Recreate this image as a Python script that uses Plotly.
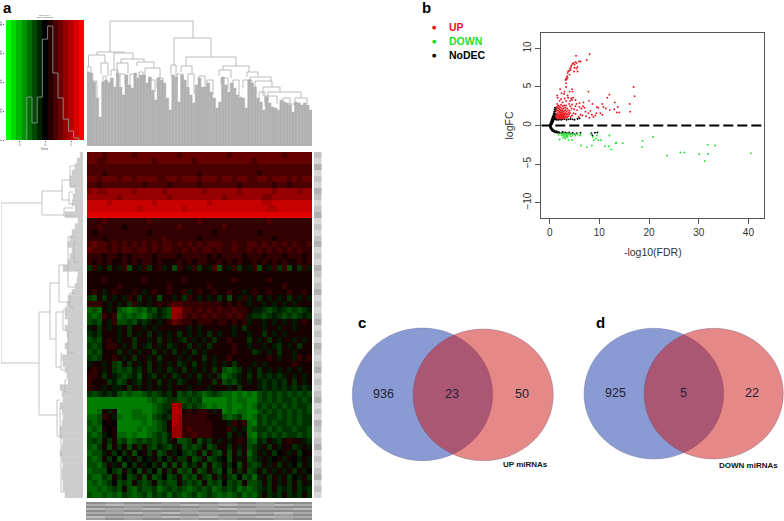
import plotly.graph_objects as go

W, H = 784, 521

# colour key and histogram
key_bins = [-7, -6, -5, -4, -3, -2, -1, 0, 1, 2, 3, 4, 5, 6, 7]
key_span = [0, 414]
hist_edges = [-3.5, -2.5, -1.5, -0.5, 0.5, 1.5, 2.5, 3.5, 4.5, 5.5, 6.5]
hist_counts = [148, 59, 148, 348, 393, 231, 145, 72, 31, 7]

# heatmap, one string per row. digits = red level, a-f = green level, spaces only group columns
hm_rows = [
    "444344444344444444344444444434444444444344444",
    "443344444444434444444344444444444344444444444",
    "333333333333333333333333333333333333333333333",
    "333233333333333333333323333333333323333333333",
    "443444344344443344344434443443443344344434344",
    "332333333332333323333323333333233333323323333",
    "565566666566666566666665666666566666656666566",
    "666666566666666656666666666566666665566666666",
    "888878888888878888888888788888888887788888888",
    "888888888878888888878888888888888888778888888",
    "999999999999999999999999999999999999999999999",
    "222322222222322222222232222222222222322222222",
    "223222212222222222322222222322222222222222222",
    "212222222222122222222222212222222212222222222",
    "222122222222222322222212222222222222212222222",
    "343323232323232332323232333223223323232323223",
    "433323233233232332232323323223223232323232322",
    "222122121222212222122222121222212221222122212",
    "212121121212212111212122112121211212121211212",
    "b2a1b1a2c1a2b12a1c21a2b1a3c1a2b1a2c1a2b2c1b2a",
    "111111111111111111111111111111111111111111111",
    "111211111112111111121111111112111111211111111",
    "111111211111111121111111211111111111111211111",
    "121a1211121a12112112a1211211211a1211211121121",
    "bc1b1a1a21b1a1c11a1b21a1a1b1c1a2a1b1a1a1b1a1a",
    "222 1a1 a1b2a1 a1212 33 22222222 12121 a1 1a1a1a1a111",
    "dcd 1a1 cdedcd bcabc 66 33232323 22322 1a abcbabcbcba",
    "cdc 212 dcdcde cbabc 65 32323232 23232 ab bcbabcbcbab",
    "cbc 1a2 ccbcab a1a12 43 22122212 21212 a1 1a1a1a1a121",
    "a1b 1a1 a1b11a 1a111 11 1a1a1111 11a1b 11 1a11a11a111",
    "bab 111 a1b1a1 b1a1a 1b 1a1a1b1a 11a11 a1 1b1a1a11111",
    "cbc 121 a11b11 a1b1a 1a b1a1a1b1 12111 b1 a1b1a11a1a1",
    "bcb 122 1a1b1a b1a1b a1 1b1a1b11 11211 a1 1a1ab1a1b11",
    "cbc 111 b1a1a1 1b1a1 b1 a1b1a111 11211 1b a1a1b11a111",
    "bcb 112 1a1b11 a1b11 1a 1a11b1a1 12111 11 1121a11a212",
    "a11 a1b c1b1a1 b1a1a 1b a1b1a1a1 a1b11 1a 1a111112111",
    "121 a1b cbcab1 b1a1b a1 b1a1a1b1 cdcb1 a1 b1a1a1a1a11",
    "221 b1a bcbac1 ab1a1 ba 1a1b1a1b dcba1 b1 bababa1a1a1",
    "211 1ba cb1ab1 a1b1a 1b a11a11b1 cbca1 a1 ababab1b1a1",
    "211 a1a a1b1a1 a1a1a 11 1a111a11 1a1b1 11 abababababa",
    "bcb aba cdcddc bcbab 1c bcbcdcbc ddede de cbcbcbcbcbc",
    "eee eee eeeeee dcdcb bc cbcbeeee ededd ee cbcbcbbcbcb",
    "eee eee eeeeee edcbb 76 bcbcdede edeed ed bcbcbcbcbbc",
    "eed 1a1 eeedde edcba 77 121221a1 ededd ee cbcbcbcbcbc",
    "ddc 21a deeddd ecbab 76 22222111 cdcbd ed bcbbcbcbcbb",
    "cdc 010 eeeeed edcb1 76 22222211 1a212 de bcbcbbcbcbb",
    "dcd 101 eeeede ddcb1 66 23222211 12a1a dc bbcbcbbcbbc",
    "cdc a01 ddedee dcbca 66 22322211 1b1a1 de bcbcbcbbcbc",
    "cbc 1b1 cbdcbc bcbca 1c cb1cab1a 1a121 cd ab1ab1211ab",
    "cdb 1c1 b1c1b1 bcabc a1 cbcb1cb1 1b1a1 cb a1b1a11ba1a",
    "dcc a1b 0b1c01 b1cb1 a0 bcb1c1bc 1c1b1 db 1a1b01a1b01",
    "cdc 1b0 c0a1b0 a1b0b 1b b1cb1cba 0c1a1 cb a1a01a10a1a",
    "ccd b1a 1c0b1a 0b1c1 c1 cab1c1cb 1b0c1 bc b1a1b1a0b1a",
    "dcc c0b c1b0c1 b0c1b 1c bc1cb1bc 0c1b1 cb 1b1a1a1b1a0",
    "cdd bc1 b0cb1c 1cb0c b1 cbc1bc1b 1bc0c bd a1b1a1b0a1b",
    "dcd cb0 cbc1bc b1cbc c1 bcbc1cbc 0cbc1 cc b1b1a1b1b1a",
    "ddc dcb c1cdbc cbdcb cb cdcbcbdc bcbdc dc bab1bab1bab",
    "cdd cdc dbcdcb dbcbd bc dcbdcbcd cdcbd cd b1bab1bab1b",
]
green_levels = {"a": -1, "b": -2, "c": -3, "d": -4, "e": -5, "f": -6}

# dendrograms: leaf heights, then merges as (left, right, height, left drop, right drop)
top_leaves = [74, 73, 64, 48, 29, 64, 66, 63, 68, 59, 73, 59, 51, 71, 61, 58, 73, 68, 71, 71, 63, 69, 56, 46, 68, 66,
              63, 48, 36, 71, 69, 44, 71, 66, 59, 51, 43, 61, 68, 59, 59, 63, 54, 48, 38, 44, 69, 61, 54, 63, 58, 51,
              49, 48, 38, 66, 63, 59, 48, 44, 36, 49, 43, 39, 38, 36, 46, 44, 43, 41, 34, 44, 43, 41, 43, 41, 36]
top_merges = [
    (23, 106, 125, 94, 108), (10, 37, 94, 91, 93), (1.5, 18, 91, 79, 83), (0, 4, 79, 65, 70), (14, 21, 83, 72, 70),
    (27, 46, 93, 76, 87), (34, 57, 87, 83, 84), (30, 41, 83, 70, 72), (50, 67, 84, 80, 78), (58, 73, 78, 65, 68),
    (24, 31, 76, 70, 68), (87, 124, 108, 81, 89), (84, 89, 81, 70, 70), (99, 149, 89, 80, 80), (94, 105, 80, 74, 72),
    (136, 162, 80, 76, 74), (132, 144, 76, 70, 68), (160, 171, 74, 69, 70), (163, 184, 69, 55, 65),
    (168, 185, 65, 56, 59), (176, 193, 59, 50, 54), (181, 214, 54, 46, 48), (208, 220, 48, 40, 42),
    (178, 190, 50, 40, 42), (203, 212, 42, 36, 38), (0, 3, 70, 62, 60), (6, 10, 65, 52, 45), (16, 19, 70, 60, 64),
    (19, 24, 64, 55, 58), (33, 38, 72, 60, 62), (43, 48, 72, 60, 60), (52, 56, 74, 68, 64), (62, 68, 66, 58, 54),
    (70, 76, 68, 58, 50), (90, 96, 72, 64, 58), (101, 107, 72, 60, 52), (112, 118, 70, 60, 55), (120, 126, 66, 58, 52),
    (134, 141, 68, 62, 56), (146, 152, 66, 58, 50), (156, 165, 66, 58, 50), (172, 178, 54, 46, 44), (196, 203, 48, 44, 42),
]
left_leaves = [3, 6, 8, 11, 13, 13, 8, 10, 11, 8, 18, 5, 8, 11, 13, 15, 11, 13, 15, 20, 5, 6, 8, 11, 15, 16, 18, 18, 15,
               18, 16, 15, 18, 16, 21, 20, 18, 16, 15, 23, 21, 20, 23, 21, 20, 21, 23, 23, 20, 21, 23, 21, 20, 21, 21,
               20, 20, 18]
left_merges = [
    (51, 211, 82, 41, 44), (39, 63, 41, 21, 19), (28, 48, 21, 13, 14), (56, 64, 19, 10, 8), (160, 263, 44, 33, 26),
    (131, 187, 33, 24, 27), (113, 150, 24, 15, 13), (160, 215, 27, 20, 22), (248, 284, 26, 23, 22), (85, 135, 15, 9, 7),
    (141, 155, 13, 8, 9), (158, 178, 20, 18, 15), (180, 201, 15, 11, 9), (201, 218, 22, 21, 18), (256, 285, 23, 20, 21),
    (285, 340, 22, 21, 20), (14, 34, 13, 8, 6), (40, 52, 14, 10, 9), (90, 110, 9, 6, 4), (228, 240, 18, 16, 15),
]

# grey label strips beside and below the heatmap
right_strip = [7, 8, 6, 8, 7, 8, 6, 7, 8, 7, 6, 8, 7, 8, 7, 6, 8, 7, 8, 6, 7, 8, 7, 6, 8, 7, 8, 7, 6, 8, 7, 8, 6, 7, 8,
               7, 6, 8, 7, 8, 7, 6, 8, 7, 8, 6, 7, 8, 7, 6, 8, 7, 8, 7, 6, 8, 7, 8]
bottom_strip = [
    [5, 6, 5, 5, 6, 5, 5, 6, 5, 6, 5, 5],
    [7, 8, 7, 7, 7, 8, 7, 8, 7, 7, 8, 7],
    [5, 5, 6, 5, 5, 5, 6, 5, 5, 6, 5, 5],
    [8, 7, 7, 8, 7, 7, 7, 8, 7, 7, 7, 8],
    [5, 6, 5, 5, 5, 6, 5, 5, 6, 5, 5, 5],
    [7, 7, 8, 7, 8, 7, 7, 7, 8, 7, 8, 7],
    [5, 5, 5, 6, 5, 5, 6, 5, 5, 5, 6, 5],
    [8, 7, 7, 7, 8, 7, 8, 7, 7, 8, 7, 7],
    [6, 5, 6, 5, 5, 6, 5, 6, 5, 5, 6, 5],
]

# volcano plot, (-log10 FDR, logFC)
up_points = [
    (3.2, 5.9), (3.3, 6.1), (3.4, 6.0), (3.5, 6.4), (3.6, 6.2), (3.6, 6.8), (3.7, 7.0), (3.9, 7.1), (4.0, 6.6), (4.1, 7.4),
    (4.2, 7.2), (4.3, 7.6), (4.4, 7.8), (4.6, 8.0), (4.8, 8.1), (5.0, 7.9), (5.2, 8.2), (5.4, 8.1), (5.0, 7.5), (5.4, 7.4),
    (5.6, 7.6), (5.9, 8.3), (6.2, 8.3), (5.3, 9.05), (7.45, 8.5), (8.05, 9.25), (4.9, 7.0), (5.6, 7.0), (3.3, 5.5),
    (1.5, 3.9), (1.6, 3.6), (2.0, 3.2), (2.1, 4.7), (2.4, 4.2), (2.9, 4.1), (3.3, 5.0), (3.0, 4.4), (3.6, 3.9), (4.0, 4.4),
    (4.5, 4.7), (4.6, 4.4), (3.7, 3.6), (4.3, 3.5), (4.7, 3.6), (4.5, 3.3), (4.1, 3.2), (3.3, 3.2), (3.0, 3.5), (2.6, 3.0),
    (2.3, 3.4), (5.2, 3.3), (7.8, 4.4), (7.9, 3.2), (6.0, 2.9), (6.8, 3.0), (5.4, 2.8),
    (16.9, 5.0), (17.1, 3.8), (16.1, 2.8), (16.2, 1.8), (12.0, 4.0), (11.6, 3.6), (13.1, 3.0), (13.7, 2.4), (13.0, 2.1),
    (12.1, 2.0), (11.3, 2.2), (10.6, 2.8), (10.8, 2.4), (9.5, 2.4), (9.8, 2.3), (10.2, 1.6), (10.6, 1.4), (13.5, 1.7),
    (14.0, 1.7), (8.6, 2.8), (9.4, 1.6), (8.2, 1.9), (8.5, 1.4), (7.8, 1.6), (7.2, 1.8), (7.0, 2.3), (6.7, 2.5), (6.4, 2.2),
    (6.0, 2.4), (5.5, 2.0), (5.2, 2.5), (4.9, 2.1), (4.5, 2.7), (4.4, 2.2), (4.1, 2.5), (3.9, 2.8), (8.0, 1.0), (8.8, 1.1),
    (9.2, 1.3), (7.3, 1.2), (6.6, 1.3), (6.2, 1.4), (5.8, 1.1), (5.2, 1.5), (4.8, 1.6), (4.5, 1.3), (4.2, 1.1), (3.8, 1.7),
    (1.3, 1.2), (1.3, 1.9), (1.4, 1.0), (1.4, 1.5), (1.4, 2.4), (1.5, 1.3), (1.5, 2.0), (1.5, 2.8), (1.6, 0.9), (1.6, 1.7),
    (1.6, 2.3), (1.7, 1.1), (1.7, 1.4), (1.7, 2.6), (1.8, 1.0), (1.8, 1.9), (1.8, 2.2), (1.9, 1.3), (1.9, 1.6), (1.9, 2.5),
    (2.0, 0.9), (2.0, 1.2), (2.0, 1.8), (2.0, 2.1), (2.1, 1.0), (2.1, 1.5), (2.1, 2.4), (2.2, 1.3), (2.2, 1.7), (2.2, 2.0),
    (2.3, 0.9), (2.3, 1.1), (2.3, 1.5), (2.3, 2.7), (2.4, 1.2), (2.4, 1.9), (2.4, 2.2), (2.5, 1.0), (2.5, 1.4), (2.5, 1.7),
    (2.6, 1.2), (2.6, 2.0), (2.6, 2.5), (2.7, 0.9), (2.7, 1.5), (2.7, 1.8), (2.8, 1.1), (2.8, 1.3), (2.8, 2.2), (2.9, 1.6),
    (2.9, 2.6), (3.0, 1.0), (3.0, 1.4), (3.0, 1.9), (3.1, 1.2), (3.1, 2.3), (3.2, 1.6), (3.2, 2.0), (3.3, 1.1), (3.3, 2.6),
    (3.4, 1.4), (3.4, 1.8), (3.5, 1.0), (3.5, 2.2), (3.6, 1.5), (3.7, 1.2), (3.7, 2.0), (3.9, 1.4), (4.0, 1.9), (4.1, 1.6),
]
down_points = [
    (40.5, -3.6), (33.3, -2.6), (31.8, -2.5), (31.9, -3.7), (31.2, -4.6), (30.1, -3.7), (27.1, -3.5), (26.3, -3.5),
    (23.6, -3.9), (20.8, -1.5), (18.7, -2.0), (18.6, -2.8), (14.7, -2.3), (13.4, -2.2), (13.3, -2.3), (12.4, -3.1),
    (11.9, -2.7), (11.1, -2.7), (12.0, -1.3), (10.3, -1.9), (9.8, -1.9), (9.3, -1.7), (8.7, -1.5), (8.5, -2.6), (7.5, -2.8),
    (6.3, -2.6), (8.9, -1.9), (8.3, -1.1), (9.5, -1.3), (1.8, -1.2), (2.0, -1.8), (2.2, -1.0), (2.4, -1.3), (2.6, -1.1),
    (2.7, -1.6), (2.8, -1.3), (2.9, -1.0), (3.0, -1.5), (3.1, -1.2), (3.2, -1.7), (3.3, -1.4), (3.4, -1.1), (3.5, -1.3),
    (3.6, -1.5), (3.7, -1.0), (3.8, -1.9), (3.9, -1.2), (4.1, -1.1), (4.3, -1.4), (4.5, -1.9), (4.6, -1.2), (5.0, -1.1),
    (5.2, -1.3), (5.6, -1.1), (6.0, -1.3), (6.2, -1.2),
]
nodec_points = [
    (0.05, 0.05), (0.1, 0.15), (0.15, 0.3), (0.2, 0.2), (0.25, 0.45), (0.3, 0.1), (0.3, 0.6), (0.35, 0.35), (0.4, 0.8),
    (0.45, 0.5), (0.5, 0.2), (0.5, 0.95), (0.55, 0.65), (0.6, 1.1), (0.6, 0.4), (0.65, 0.8), (0.7, 1.3), (0.7, 0.55),
    (0.75, 1.0), (0.8, 1.55), (0.8, 0.7), (0.85, 1.2), (0.9, 1.8), (0.9, 0.85), (0.95, 1.4), (1.0, 2.05), (1.0, 1.0),
    (1.05, 1.6), (1.05, 2.3), (1.1, 0.8), (1.1, 1.2), (1.15, 1.85), (1.2, 0.95), (1.2, 1.45), (1.25, 2.15), (1.3, 0.8),
    (1.4, 0.75), (1.6, 0.8), (1.8, 0.75), (2.0, 0.8), (2.3, 0.75), (2.6, 0.8), (3.0, 0.85), (3.4, 0.75), (3.8, 0.8),
    (4.2, 0.85), (4.6, 0.8), (5.0, 0.75), (5.6, 0.85), (6.0, 0.95),
    (0.05, -0.1), (0.1, -0.25), (0.15, -0.15), (0.2, -0.4), (0.25, -0.2), (0.3, -0.5), (0.35, -0.3), (0.4, -0.55),
    (0.45, -0.4), (0.5, -0.65), (0.6, -0.7), (0.65, -0.5), (0.75, -0.75), (0.9, -0.8), (1.0, -0.65), (1.1, -0.85),
    (1.3, -0.9), (1.4, -0.75), (1.6, -0.95), (1.8, -0.85), (2.0, -0.95), (2.3, -1.0), (2.6, -0.85), (2.9, -0.95),
    (3.2, -0.9), (3.5, -1.0), (3.9, -0.9), (4.2, -1.05), (4.6, -0.95), (5.0, -1.1), (5.5, -1.0), (6.2, -0.95),
    (8.4, -1.0), (9.1, -0.95), (9.6, -0.9), (8.6, -1.3), (0.02, 0.0), (0.08, 0.0), (0.12, 0.02), (0.18, -0.02),
]
legend_labels = ["UP", "DOWN", "NoDEC"]
legend_colors = ["#e8141c", "#22e02a", "#000000"]
cutoff = [0, 0]

# venn counts
venn_up = ["936", "23", "50"]
venn_down = ["925", "5", "22"]


def xdom(a, b):
    return [a / W, b / W]


def ydom(top, bot):
    return [1 - bot / H, 1 - top / H]


def merge_lines(merges):
    a, b = [], []
    for l, r, h, hl, hr in merges:
        a += [l, l, r, r, None]
        b += [hl, h, h, hr, None]
    return a, b


def decode(row):
    row = row.replace(" ", "")[:45].ljust(45, "0")
    return [green_levels[c] if c in green_levels else int(c) for c in row]


fig = go.Figure()

# colour key
fig.add_trace(go.Heatmap(z=[key_bins], x=key_bins, y=key_span, xaxis="x", yaxis="y", showscale=False,
                         zmin=-7, zmax=7, colorscale=[[0, "rgb(0,255,0)"], [0.5, "black"], [1, "rgb(255,0,0)"]]))
hx, hy = [hist_edges[0]], [0]
for i in range(len(hist_counts)):
    hx += [hist_edges[i], hist_edges[i + 1]]
    hy += [hist_counts[i], hist_counts[i]]
hx.append(hist_edges[-1])
hy.append(0)
fig.add_trace(go.Scatter(x=hx, y=hy, mode="lines", xaxis="x", yaxis="y", line=dict(color="#8fa5a5", width=0.8)))

# top dendrogram
n_top = len(top_leaves)
fig.add_trace(go.Bar(x=[(i + 0.5) * 225 / n_top for i in range(n_top)], y=top_leaves, width=225 / n_top,
                     xaxis="x2", yaxis="y2", marker=dict(color="#b2b2b2", line=dict(color="#b2b2b2", width=0.5))))
mx, my = merge_lines(top_merges)
fig.add_trace(go.Scatter(x=mx, y=my, mode="lines", xaxis="x2", yaxis="y2", line=dict(color="#ababab", width=0.8)))

# left dendrogram
n_left = len(left_leaves)
fig.add_trace(go.Bar(y=[(i + 0.5) * 346 / n_left for i in range(n_left)], x=left_leaves, width=346 / n_left,
                     orientation="h", xaxis="x3", yaxis="y3", marker=dict(color="#cdcdcd", line=dict(color="#cdcdcd", width=0.5))))
mp, mh = merge_lines(left_merges)
fig.add_trace(go.Scatter(x=mh, y=mp, mode="lines", xaxis="x3", yaxis="y3", line=dict(color="#b5b5b5", width=0.8)))

# heatmap
fig.add_trace(go.Heatmap(z=[decode(r) for r in hm_rows], xaxis="x4", yaxis="y4", showscale=False, zmin=-6, zmax=9,
                         colorscale=[[0, "rgb(0,150,0)"], [0.4, "black"], [1, "rgb(225,0,0)"]]))

# label strips
fig.add_trace(go.Heatmap(z=[[v] for v in right_strip], xaxis="x5", yaxis="y5", showscale=False, zmin=6, zmax=8,
                         colorscale=[[0, "#b0b0b0"], [1, "#d6d6d6"]]))
fig.add_trace(go.Heatmap(z=bottom_strip, xaxis="x6", yaxis="y6", showscale=False, zmin=5, zmax=8,
                         colorscale=[[0, "#8c8c8c"], [1, "#bcbcbc"]]))

# volcano
for pts, col in [(nodec_points, "#000000"), (up_points, "#e8141c"), (down_points, "#22e02a")]:
    fig.add_trace(go.Scatter(x=[p[0] for p in pts], y=[p[1] for p in pts], mode="markers", xaxis="x7", yaxis="y7",
                             marker=dict(color=col, size=1.9, line=dict(width=0))))
fig.add_trace(go.Scatter(x=[-1.69, 43.2], y=cutoff, mode="lines", xaxis="x7", yaxis="y7",
                         line=dict(color="black", width=2, dash="10px,4px")))

hidden = dict(visible=False, fixedrange=True, automargin=False)
small = dict(family="Liberation Sans", size=3, color="#555555")
axcol = "#555555"
fig.update_layout(
    width=W, height=H, margin=dict(l=0, r=0, t=0, b=0, autoexpand=False), paper_bgcolor="white", plot_bgcolor="white",
    showlegend=False, barmode="overlay", font=dict(family="Liberation Sans", color="#333333"),
    xaxis=dict(domain=xdom(5, 84), range=[-7.7, 7.5], anchor="y", automargin=False, showgrid=False, zeroline=False,
               tickvals=[-5, 0, 5], tickfont=small, ticks="outside", ticklen=1, tickwidth=0.3, tickcolor=axcol,
               title=dict(text="Value", font=small, standoff=0)),
    yaxis=dict(domain=ydom(20, 140), range=[0, 414], anchor="x", automargin=False, showgrid=False, zeroline=False,
               tickvals=[0, 100, 200, 300, 400], tickfont=small, tickangle=-90, ticks="outside", ticklen=1,
               tickwidth=0.3, tickcolor=axcol),
    xaxis2=dict(hidden, domain=xdom(87, 312), range=[0, 225], anchor="y2"),
    yaxis2=dict(hidden, domain=ydom(20, 146), range=[0, 126], anchor="x2"),
    xaxis3=dict(hidden, domain=xdom(1, 83), range=[82, 0], anchor="y3"),
    yaxis3=dict(hidden, domain=ydom(152, 498), range=[346, 0], anchor="x3"),
    xaxis4=dict(hidden, domain=xdom(87, 312), range=[-0.5, 44.5], anchor="y4"),
    yaxis4=dict(hidden, domain=ydom(152, 498), range=[57.5, -0.5], anchor="x4"),
    xaxis5=dict(hidden, domain=xdom(314, 321.5), range=[-0.5, 0.5], anchor="y5"),
    yaxis5=dict(hidden, domain=ydom(152, 498), range=[57.5, -0.5], anchor="x5"),
    xaxis6=dict(hidden, domain=xdom(86, 312), range=[-0.5, 11.5], anchor="y6"),
    yaxis6=dict(hidden, domain=ydom(502, 520), range=[8.5, -0.5], anchor="x6"),
    xaxis7=dict(domain=xdom(541.3, 764.3), range=[-1.69, 43.2], anchor="y7", automargin=False, showgrid=False,
                zeroline=False, showline=True, mirror=True, linecolor=axcol, linewidth=1, ticks="outside", ticklen=5,
                tickcolor=axcol, tickvals=[0, 10, 20, 30, 40], tickfont=dict(size=10, color="#333333"),
                title=dict(text="-log10(FDR)", font=dict(size=10.5), standoff=11)),
    yaxis7=dict(domain=ydom(33, 218), range=[-12, 12], anchor="x7", automargin=False, showgrid=False, zeroline=False,
                showline=True, mirror=True, linecolor=axcol, linewidth=1, ticks="outside", ticklen=5, tickcolor=axcol,
                tickvals=[-10, -5, 0, 5, 10], tickangle=-90, tickfont=dict(size=10, color="#333333"),
                title=dict(text="logFC", font=dict(size=10.5), standoff=6)),
)


def note(x, y, text, size, color="#111111", bold=False):
    fig.add_annotation(xref="paper", yref="paper", x=x / W, y=1 - y / H, text="<b>%s</b>" % text if bold else text,
                       showarrow=False, font=dict(family="Liberation Sans", size=size, color=color),
                       xanchor="center", yanchor="middle")


def circle(x0, x1, y0, y1, col):
    fig.add_shape(type="circle", xref="paper", yref="paper", x0=x0 / W, x1=x1 / W, y0=1 - y1 / H, y1=1 - y0 / H,
                  fillcolor=col, line=dict(color="rgba(90,90,130,0.45)", width=0.7))


BLUE = "rgba(60,88,183,0.6)"
RED = "rgba(203,17,17,0.5)"
circle(352.3, 492.7, 328, 460.7, BLUE)
circle(413, 553.3, 329, 460.7, RED)
circle(584, 723.7, 328.3, 459, BLUE)
circle(644, 783.3, 328.3, 459, RED)

for x, t in zip([383, 452, 522], venn_up):
    note(x, 394, t, 12.5, "#222233")
for x, t in zip([615, 683, 752], venn_down):
    note(x, 393, t, 12.5, "#222233")
note(525, 464, "UP miRNAs", 8, bold=True)
note(748, 465, "DOWN miRNAs", 8, bold=True)

note(8, 8, "a", 15, "black", True)
note(426, 8, "b", 15, "black", True)
note(362, 322, "c", 15, "black", True)
note(600, 322, "d", 15, "black", True)
note(45, 15, "Color Key", 2.5, "#444444")
note(45, 18, "and Histogram", 2.5, "#444444")

# legend labels carry their own colours, so these are notes and not a plotly legend
for i, t in enumerate(legend_labels):
    fig.add_annotation(xref="paper", yref="paper", x=447 / W, y=1 - (27 + 14 * i) / H, text="<b>%s</b>" % t,
                       showarrow=False, xanchor="left", yanchor="middle",
                       font=dict(family="Liberation Sans", size=10.5, color=legend_colors[i]))
    fig.add_annotation(xref="paper", yref="paper", x=434 / W, y=1 - (27 + 14 * i) / H, text="●",
                       showarrow=False, xanchor="center", yanchor="middle",
                       font=dict(family="DejaVu Sans", size=5, color=legend_colors[i]))

fig.write_html("out.html", config={"displayModeBar": False}, post_script="document.body.style.margin='0';")
